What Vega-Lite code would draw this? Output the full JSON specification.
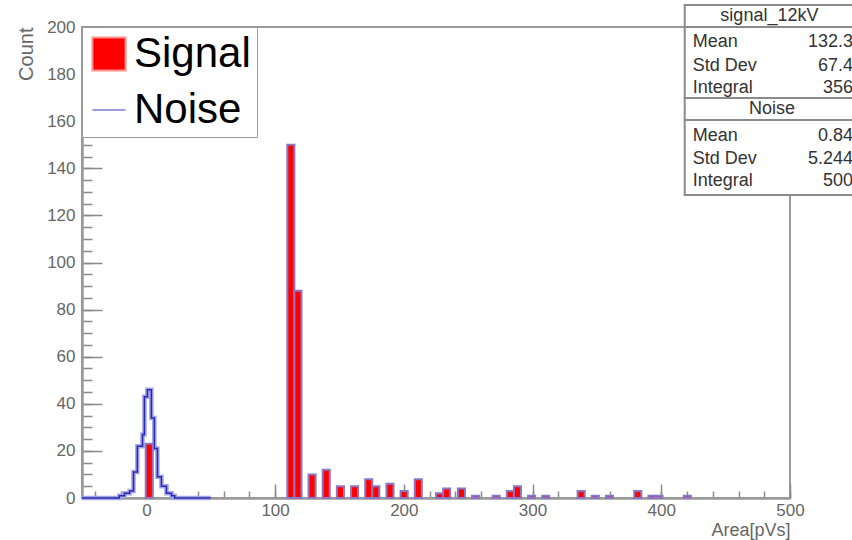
{
  "$schema": "https://vega.github.io/schema/vega-lite/v6.json",
  "width": 708,
  "height": 471,
  "autosize": {"type": "none"},
  "padding": {"left": 82, "top": 27, "right": 62, "bottom": 42},
  "background": "white",
  "config": {
    "font": "Liberation Sans",
    "view": {"stroke": "#9a9a9a", "strokeWidth": 2},
    "legend": {
      "orient": "top-left",
      "offset": 0,
      "padding": 6,
      "fillColor": "white",
      "strokeColor": "#9a9a9a",
      "labelFontSize": 42,
      "labelFont": "Liberation Sans",
      "labelColor": "#000000",
      "symbolSize": 1100,
      "symbolStrokeWidth": 2,
      "rowPadding": 14,
      "labelOffset": 4,
      "labelLimit": 400
    }
  },
  "datasets": {
    "signal": [
      {"lo": -0.5, "hi": 5, "count": 23},
      {"lo": 109.5, "hi": 115, "count": 150},
      {"lo": 115, "hi": 120.5, "count": 88},
      {"lo": 126, "hi": 131.5, "count": 10},
      {"lo": 137, "hi": 142.5, "count": 12},
      {"lo": 148, "hi": 153.5, "count": 5},
      {"lo": 159, "hi": 164.5, "count": 5},
      {"lo": 170, "hi": 175.5, "count": 8},
      {"lo": 175.5, "hi": 181, "count": 5},
      {"lo": 186.5, "hi": 192, "count": 6},
      {"lo": 197.5, "hi": 203, "count": 3},
      {"lo": 208.5, "hi": 214, "count": 8},
      {"lo": 225, "hi": 230.5, "count": 2},
      {"lo": 230.5, "hi": 236, "count": 4},
      {"lo": 242, "hi": 247.5, "count": 4},
      {"lo": 253, "hi": 258.5, "count": 1},
      {"lo": 269, "hi": 274.5, "count": 1},
      {"lo": 280, "hi": 285.5, "count": 3},
      {"lo": 285.5, "hi": 291, "count": 5},
      {"lo": 296.5, "hi": 302, "count": 1},
      {"lo": 307.5, "hi": 313, "count": 1},
      {"lo": 335, "hi": 340.5, "count": 3},
      {"lo": 346, "hi": 351.5, "count": 1},
      {"lo": 357, "hi": 362.5, "count": 1},
      {"lo": 379, "hi": 384.5, "count": 3},
      {"lo": 390, "hi": 395.5, "count": 1},
      {"lo": 395.5, "hi": 401, "count": 1},
      {"lo": 417.5, "hi": 423, "count": 1}
    ],
    "noise": [
      {"area": -50, "count": 0},
      {"area": -21, "count": 1},
      {"area": -17, "count": 2},
      {"area": -13, "count": 3},
      {"area": -10, "count": 11},
      {"area": -7, "count": 22},
      {"area": -3, "count": 27},
      {"area": -1.5, "count": 43},
      {"area": 0.8, "count": 46},
      {"area": 3.9, "count": 34},
      {"area": 6.2, "count": 21},
      {"area": 8.6, "count": 9},
      {"area": 11.7, "count": 5},
      {"area": 15.6, "count": 2},
      {"area": 19.5, "count": 1},
      {"area": 22, "count": 0},
      {"area": 50, "count": 0}
    ],
    "series": [{"series": "Signal"}, {"series": "Noise"}],
    "stats": [
      {"box": "signal_12kV", "stat": "Mean", "value": "132.3"},
      {"box": "signal_12kV", "stat": "Std Dev", "value": "67.4"},
      {"box": "signal_12kV", "stat": "Integral", "value": "356"},
      {"box": "Noise", "stat": "Mean", "value": "0.84"},
      {"box": "Noise", "stat": "Std Dev", "value": "5.244"},
      {"box": "Noise", "stat": "Integral", "value": "500"}
    ],
    "boxes": [{"box": "signal_12kV"}, {"box": "Noise"}]
  },
  "layer": [
    {
      "data": {"name": "noise"},
      "mark": {"type": "line", "interpolate": "step-after", "color": "#a4a4e6", "strokeWidth": 4.5},
      "encoding": {
        "x": {"field": "area", "type": "quantitative", "scale": {"domain": [-50, 500], "nice": false, "zero": false},
          "axis": {"orient": "bottom", "values": [-40,-20,0,20,40,60,80,100,120,140,160,180,200,220,240,260,280,300,320,340,360,380,400,420,440,460,480,500],
            "tickSize": -7, "tickColor": "#8a8a8a", "tickWidth": 1.5, "labels": false, "title": null, "domain": false, "grid": false}},
        "y": {"field": "count", "type": "quantitative", "scale": {"domain": [0, 200], "nice": false},
          "axis": {"orient": "left", "values": [0,5,10,15,20,25,30,35,40,45,50,55,60,65,70,75,80,85,90,95,100,105,110,115,120,125,130,135,140,145,150,155,160,165,170,175,180,185,190,195,200],
            "tickSize": -10, "tickColor": "#8a8a8a", "tickWidth": 1.5, "labels": false, "title": null, "domain": false, "grid": false}}
      }
    },
    {
      "data": {"name": "noise"},
      "mark": {"type": "line", "interpolate": "step-after", "color": "#2a2ab0", "strokeWidth": 1.5},
      "encoding": {
        "x": {"field": "area", "type": "quantitative", "axis": null},
        "y": {"field": "count", "type": "quantitative", "axis": null}
      }
    },
    {
      "data": {"name": "signal"},
      "mark": {"type": "bar", "fill": "#ff0000", "stroke": "#8a76c4", "strokeWidth": 2},
      "encoding": {
        "x": {"field": "lo", "type": "quantitative",
          "axis": {"orient": "bottom", "values": [0, 100, 200, 300, 400, 500], "tickSize": -14, "tickColor": "#8a8a8a", "tickWidth": 1.5,
            "labelPadding": 18, "labelFontSize": 17, "labelColor": "#666666", "labelFlush": false,
            "title": "Area[pVs]", "titleAnchor": "end", "titleFontSize": 18, "titleFontWeight": "normal", "titleColor": "#666666", "titlePadding": 3,
            "domain": true, "domainColor": "#9a9a9a", "domainWidth": 2.5, "grid": false}},
        "x2": {"field": "hi"},
        "y": {"field": "count", "type": "quantitative",
          "axis": {"orient": "left", "values": [0,20,40,60,80,100,120,140,160,180,200], "tickSize": -20, "tickColor": "#8a8a8a", "tickWidth": 1.5,
            "labelPadding": 27, "labelFontSize": 17, "labelColor": "#666666", "labelFlush": false,
            "title": "Count", "titleAnchor": "end", "titleAlign": "right", "titleY": 0, "titleFontSize": 20, "titleFontWeight": "normal", "titleColor": "#666666", "titlePadding": 10,
            "domain": true, "domainColor": "#9a9a9a", "domainWidth": 2.5, "grid": false}},
        "y2": {"datum": 0}
      }
    },
    {
      "data": {"name": "series"},
      "mark": {"type": "point", "opacity": 0, "filled": true, "fill": "#ff0000"},
      "encoding": {
        "stroke": {"field": "series", "type": "nominal", "scale": {"domain": ["Signal", "Noise"], "range": ["#ff9090", "#9c9ce0"]}, "legend": {"title": null, "symbolFillColor": "#ff0000"}},
        "shape": {"field": "series", "type": "nominal", "scale": {"domain": ["Signal", "Noise"], "range": ["square", "stroke"]}, "legend": {"title": null, "symbolFillColor": "#ff0000"}}
      }
    },
    {
      "data": {"name": "boxes"},
      "transform": [{"filter": "datum.box === 'signal_12kV'"}],
      "mark": {"type": "rect", "fill": "white", "stroke": "#8a8a8a", "strokeWidth": 2, "clip": false},
      "encoding": {"x": {"datum": 418.2, "axis": null}, "x2": {"datum": 570}, "y": {"datum": 209.3, "axis": null}, "y2": {"datum": 169.9}}
    },
    {
      "data": {"name": "boxes"},
      "transform": [{"filter": "datum.box === 'Noise'"}],
      "mark": {"type": "rect", "fill": "white", "stroke": "#8a8a8a", "strokeWidth": 2, "clip": false},
      "encoding": {"x": {"datum": 418.2, "axis": null}, "x2": {"datum": 570}, "y": {"datum": 169.9, "axis": null}, "y2": {"datum": 128.7}}
    },
    {
      "data": {"name": "boxes"},
      "transform": [{"filter": "datum.box === 'signal_12kV'"}],
      "mark": {"type": "rule", "stroke": "#8a8a8a", "strokeWidth": 2, "clip": false},
      "encoding": {"x": {"datum": 418.2, "axis": null}, "x2": {"datum": 570}, "y": {"datum": 200, "axis": null}}
    },
    {
      "data": {"name": "boxes"},
      "transform": [{"filter": "datum.box === 'Noise'"}],
      "mark": {"type": "rule", "stroke": "#8a8a8a", "strokeWidth": 2, "clip": false},
      "encoding": {"x": {"datum": 418.2, "axis": null}, "x2": {"datum": 570}, "y": {"datum": 160.5, "axis": null}}
    },
    {
      "data": {"name": "boxes"},
      "transform": [{"filter": "datum.box === 'signal_12kV'"}],
      "mark": {"type": "text", "align": "center", "baseline": "middle", "fontSize": 18, "color": "#333333", "clip": false},
      "encoding": {"x": {"datum": 484, "axis": null}, "y": {"datum": 204.7, "axis": null}, "text": {"field": "box"}}
    },
    {
      "data": {"name": "boxes"},
      "transform": [{"filter": "datum.box === 'Noise'"}],
      "mark": {"type": "text", "align": "center", "baseline": "middle", "fontSize": 18, "color": "#333333", "clip": false},
      "encoding": {"x": {"datum": 486, "axis": null}, "y": {"datum": 165.2, "axis": null}, "text": {"field": "box"}}
    },
    {
      "data": {"name": "stats"},
      "transform": [{"filter": "datum.box === 'signal_12kV' && datum.stat === 'Mean'"}],
      "encoding": {"y": {"datum": 193.6, "axis": null}},
      "layer": [
        {"mark": {"type": "text", "align": "left", "baseline": "middle", "fontSize": 18, "color": "#333333", "clip": false}, "encoding": {"x": {"datum": 424.5, "axis": null}, "text": {"field": "stat"}}},
        {"mark": {"type": "text", "align": "right", "baseline": "middle", "fontSize": 18, "color": "#333333", "clip": false}, "encoding": {"x": {"datum": 549, "axis": null}, "text": {"field": "value"}}}
      ]
    },
    {
      "data": {"name": "stats"},
      "transform": [{"filter": "datum.box === 'signal_12kV' && datum.stat === 'Std Dev'"}],
      "encoding": {"y": {"datum": 183.4, "axis": null}},
      "layer": [
        {"mark": {"type": "text", "align": "left", "baseline": "middle", "fontSize": 18, "color": "#333333", "clip": false}, "encoding": {"x": {"datum": 424.5, "axis": null}, "text": {"field": "stat"}}},
        {"mark": {"type": "text", "align": "right", "baseline": "middle", "fontSize": 18, "color": "#333333", "clip": false}, "encoding": {"x": {"datum": 549, "axis": null}, "text": {"field": "value"}}}
      ]
    },
    {
      "data": {"name": "stats"},
      "transform": [{"filter": "datum.box === 'signal_12kV' && datum.stat === 'Integral'"}],
      "encoding": {"y": {"datum": 174.1, "axis": null}},
      "layer": [
        {"mark": {"type": "text", "align": "left", "baseline": "middle", "fontSize": 18, "color": "#333333", "clip": false}, "encoding": {"x": {"datum": 424.5, "axis": null}, "text": {"field": "stat"}}},
        {"mark": {"type": "text", "align": "right", "baseline": "middle", "fontSize": 18, "color": "#333333", "clip": false}, "encoding": {"x": {"datum": 549, "axis": null}, "text": {"field": "value"}}}
      ]
    },
    {
      "data": {"name": "stats"},
      "transform": [{"filter": "datum.box === 'Noise' && datum.stat === 'Mean'"}],
      "encoding": {"y": {"datum": 153.7, "axis": null}},
      "layer": [
        {"mark": {"type": "text", "align": "left", "baseline": "middle", "fontSize": 18, "color": "#333333", "clip": false}, "encoding": {"x": {"datum": 424.5, "axis": null}, "text": {"field": "stat"}}},
        {"mark": {"type": "text", "align": "right", "baseline": "middle", "fontSize": 18, "color": "#333333", "clip": false}, "encoding": {"x": {"datum": 549, "axis": null}, "text": {"field": "value"}}}
      ]
    },
    {
      "data": {"name": "stats"},
      "transform": [{"filter": "datum.box === 'Noise' && datum.stat === 'Std Dev'"}],
      "encoding": {"y": {"datum": 144.0, "axis": null}},
      "layer": [
        {"mark": {"type": "text", "align": "left", "baseline": "middle", "fontSize": 18, "color": "#333333", "clip": false}, "encoding": {"x": {"datum": 424.5, "axis": null}, "text": {"field": "stat"}}},
        {"mark": {"type": "text", "align": "right", "baseline": "middle", "fontSize": 18, "color": "#333333", "clip": false}, "encoding": {"x": {"datum": 549, "axis": null}, "text": {"field": "value"}}}
      ]
    },
    {
      "data": {"name": "stats"},
      "transform": [{"filter": "datum.box === 'Noise' && datum.stat === 'Integral'"}],
      "encoding": {"y": {"datum": 134.6, "axis": null}},
      "layer": [
        {"mark": {"type": "text", "align": "left", "baseline": "middle", "fontSize": 18, "color": "#333333", "clip": false}, "encoding": {"x": {"datum": 424.5, "axis": null}, "text": {"field": "stat"}}},
        {"mark": {"type": "text", "align": "right", "baseline": "middle", "fontSize": 18, "color": "#333333", "clip": false}, "encoding": {"x": {"datum": 549, "axis": null}, "text": {"field": "value"}}}
      ]
    }
  ],
  "resolve": {"axis": {"x": "independent", "y": "independent"}}
}
